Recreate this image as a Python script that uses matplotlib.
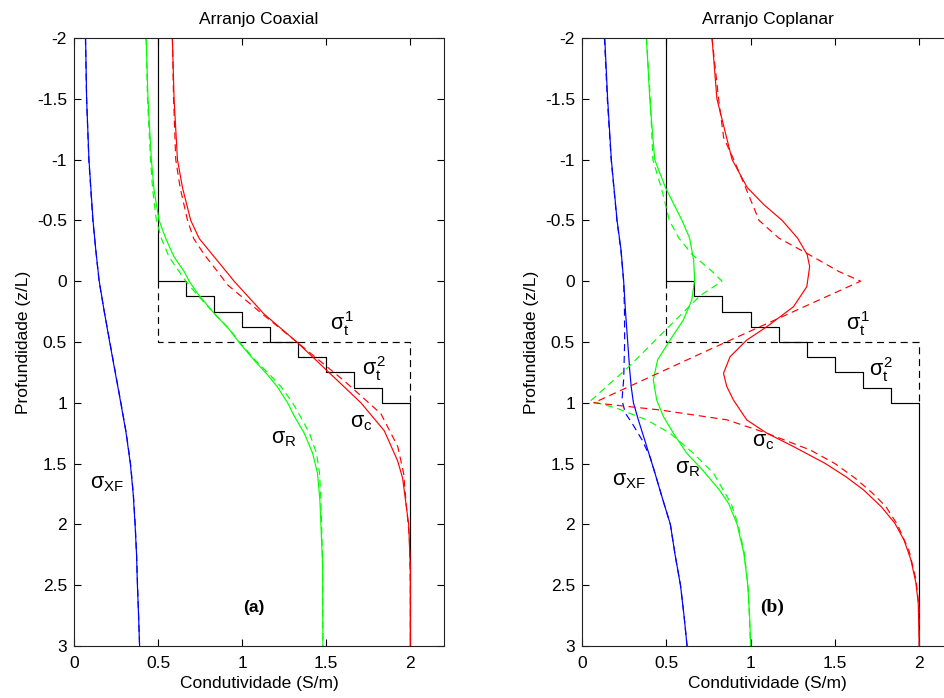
import matplotlib
matplotlib.use("Agg")
import matplotlib.pyplot as plt
import numpy as np

plt.rcParams['font.family'] = ['Liberation Sans', 'DejaVu Sans']
plt.rcParams['mathtext.fontset'] = 'custom'
plt.rcParams['mathtext.rm'] = 'Liberation Sans'
plt.rcParams['mathtext.it'] = 'Liberation Sans'
plt.rcParams['mathtext.bf'] = 'Liberation Sans:bold'

# ---------------- true model (stepped transition zone) ----------------
layer_tops = [-2.0, 0.0, 0.125, 0.25, 0.375, 0.5, 0.625, 0.75, 0.875, 1.0]
layer_sigma = [0.5, 0.667, 0.833, 1.0, 1.167, 1.333, 1.5, 1.667, 1.833, 2.0]
model_bottom = 3.0
# two-layer reference model (sigma_t^1 above, sigma_t^2 below)
two_layer_sigma = [0.5, 2.0]
two_layer_interface = 0.5
transition_zone = [0.0, 1.0]

# ---------------- Arranjo Coaxial ----------------
coax_xf_z = [-2.0, -1.5, -1.0, -0.5, -0.25, 0.0, 0.25, 0.5, 0.75, 1.0, 1.25, 1.5, 1.75, 2.0, 2.25, 2.5, 2.75, 3.0]
coax_xf = [0.069, 0.075, 0.089, 0.113, 0.130, 0.150, 0.180, 0.212, 0.245, 0.278, 0.310, 0.335, 0.352, 0.363, 0.372, 0.377, 0.384, 0.390]
coax_xf_dash = [0.068, 0.075, 0.088, 0.112, 0.130, 0.149, 0.180, 0.213, 0.246, 0.279, 0.311, 0.336, 0.353, 0.364, 0.372, 0.378, 0.384, 0.390]

coax_r_z = [-2.0, -1.5, -1.0, -0.75, -0.5, -0.35, -0.2, -0.08, 0.0, 0.10, 0.264, 0.40, 0.50, 0.65, 0.77, 0.87, 1.0, 1.11, 1.25, 1.415, 1.58, 1.8, 2.0, 2.33, 3.0]
coax_r = [0.429, 0.440, 0.460, 0.476, 0.506, 0.546, 0.595, 0.655, 0.685, 0.734, 0.833, 0.925, 0.980, 1.071, 1.151, 1.210, 1.270, 1.310, 1.369, 1.419, 1.448, 1.462, 1.468, 1.478, 1.480]
coax_r_dash = [0.429, 0.437, 0.455, 0.468, 0.490, 0.520, 0.565, 0.625, 0.665, 0.725, 0.833, 0.928, 0.983, 1.078, 1.165, 1.232, 1.300, 1.345, 1.400, 1.442, 1.460, 1.468, 1.472, 1.479, 1.480]

coax_c_z = [-2.0, -1.5, -1.0, -0.77, -0.5, -0.35, -0.22, -0.08, 0.0, 0.27, 0.5, 0.74, 1.0, 1.23, 1.48, 1.62, 2.0, 2.36, 3.0]
coax_c = [0.585, 0.595, 0.615, 0.645, 0.694, 0.745, 0.822, 0.905, 0.952, 1.130, 1.325, 1.508, 1.706, 1.845, 1.925, 1.954, 1.990, 2.000, 2.000]
coax_c_dash_z = [-2.0, -1.5, -1.0, -0.77, -0.5, -0.35, -0.22, -0.08, 0.03, 0.27, 0.5, 0.82, 1.09, 1.36, 1.58, 1.83, 2.1, 2.5, 3.0]
coax_c_dash = [0.585, 0.592, 0.605, 0.631, 0.675, 0.712, 0.774, 0.853, 0.913, 1.120, 1.325, 1.607, 1.825, 1.925, 1.960, 1.975, 1.994, 2.000, 2.000]

# ---------------- Arranjo Coplanar ----------------
copl_xf_z = [-2.0, -1.5, -1.0, -0.5, -0.25, 0.0, 0.25, 0.5, 0.75, 0.87, 1.0, 1.14, 1.36, 1.58, 1.8, 2.0, 2.25, 2.5, 2.75, 3.0]
copl_xf = [0.135, 0.152, 0.174, 0.208, 0.232, 0.247, 0.258, 0.271, 0.284, 0.292, 0.305, 0.334, 0.384, 0.433, 0.480, 0.524, 0.552, 0.584, 0.605, 0.623]
copl_xf_dash_z = [-2.0, -1.5, -1.0, -0.5, -0.25, 0.0, 0.25, 0.5, 0.81, 0.977, 1.086, 1.168, 1.305, 1.45, 1.58, 1.8, 2.0, 2.25, 2.5, 2.75, 3.0]
copl_xf_dash = [0.133, 0.150, 0.173, 0.207, 0.231, 0.247, 0.252, 0.253, 0.247, 0.237, 0.257, 0.297, 0.356, 0.405, 0.433, 0.480, 0.524, 0.552, 0.584, 0.605, 0.623]

copl_r_z = [-2.0, -1.5, -1.0, -0.77, -0.5, -0.355, -0.174, -0.01, 0.155, 0.319, 0.484, 0.648, 0.812, 0.977, 1.114, 1.25, 1.415, 1.553, 1.717, 1.83, 2.0, 2.24, 2.5, 2.75, 3.0]
copl_r = [0.382, 0.402, 0.431, 0.495, 0.593, 0.638, 0.662, 0.668, 0.651, 0.601, 0.522, 0.448, 0.423, 0.443, 0.483, 0.542, 0.621, 0.715, 0.815, 0.870, 0.920, 0.960, 0.983, 0.994, 1.000]
copl_r_dash_z = [-2.0, -1.5, -1.0, -0.77, -0.5, -0.355, -0.22, -0.08, 0.0, 0.12, 0.45, 0.70, 0.985, 1.045, 1.141, 1.25, 1.415, 1.58, 1.83, 2.0, 2.24, 2.5, 3.0]
copl_r_dash = [0.382, 0.405, 0.420, 0.470, 0.518, 0.574, 0.653, 0.772, 0.830, 0.700, 0.460, 0.280, 0.050, 0.206, 0.384, 0.522, 0.660, 0.780, 0.885, 0.925, 0.963, 0.984, 1.000]

copl_c_z = [-2.0, -1.5, -1.0, -0.77, -0.63, -0.5, -0.355, -0.22, -0.12, 0.045, 0.21, 0.374, 0.484, 0.621, 0.758, 0.868, 0.977, 1.141, 1.25, 1.36, 1.497, 1.608, 1.717, 1.855, 1.99, 2.13, 2.29, 2.48, 2.65, 3.0]
copl_c = [0.771, 0.800, 0.890, 0.980, 1.078, 1.187, 1.278, 1.335, 1.350, 1.333, 1.254, 1.096, 0.977, 0.878, 0.839, 0.859, 0.898, 0.977, 1.096, 1.254, 1.440, 1.565, 1.670, 1.775, 1.855, 1.910, 1.950, 1.980, 1.994, 2.000]
copl_c_dash_z = [-2.0, -1.5, -1.18, -1.0, -0.77, -0.5, -0.355, -0.22, -0.08, 0.0, 0.566, 1.0, 1.059, 1.14, 1.25, 1.388, 1.5, 1.62, 1.74, 1.85, 2.0, 2.22, 2.45, 2.7, 3.0]
copl_c_dash = [0.771, 0.810, 0.840, 0.900, 0.970, 1.050, 1.167, 1.345, 1.523, 1.652, 0.750, 0.070, 0.463, 0.859, 1.096, 1.353, 1.500, 1.620, 1.720, 1.800, 1.870, 1.940, 1.980, 2.000, 2.000]

titles = ['Arranjo Coaxial', 'Arranjo Coplanar']
panel_tags = ['(a)', '(b)']
x_ticks = [0, 0.5, 1, 1.5, 2]
x_ticklabels = ['0', '0.5', '1', '1.5', '2']
y_ticks = [-2, -1.5, -1, -0.5, 0, 0.5, 1, 1.5, 2, 2.5, 3]
y_ticklabels = ['-2', '-1.5', '-1', '-0.5', '0', '0.5', '1', '1.5', '2', '2.5', '3']

BLUE, GREEN, RED, BLACK = '#0000ff', '#00ff00', '#ff0000', '#000000'
LW = 0.85
DASH = (0, (6, 4))

fig = plt.figure(figsize=(9.45, 6.98), dpi=100)
ax_left = fig.add_axes([74 / 945, 52 / 698, 370 / 945, 608 / 698])
ax_right = fig.add_axes([582 / 945, 52 / 698, 371 / 945, 608 / 698])


def draw_model(ax):
    zs, ss = [], []
    bounds = layer_tops + [model_bottom]
    for i, s in enumerate(layer_sigma):
        zs += [bounds[i], bounds[i + 1]]
        ss += [s, s]
    ax.plot(ss, zs, color=BLACK, lw=LW)
    s1, s2 = two_layer_sigma
    ax.plot([s1, s1, s2, s2],
            [transition_zone[0], two_layer_interface, two_layer_interface, transition_zone[1]],
            color=BLACK, lw=LW, ls=DASH)


def style_axes(ax, title):
    ax.set_xlim(0, 2.2)
    ax.set_ylim(3, -2)
    ax.set_xticks(x_ticks)
    ax.set_xticklabels(x_ticklabels)
    ax.set_yticks(y_ticks)
    ax.set_yticklabels(y_ticklabels)
    ax.tick_params(direction='in', length=5, width=0.8, top=True, right=True,
                   labelsize=12.5, colors='#000000')
    ax.tick_params(axis='x', pad=7)
    ax.tick_params(axis='y', pad=5)
    for sp in ax.spines.values():
        sp.set_linewidth(0.8)
        sp.set_color('#222222')
    ax.set_title(title, fontsize=12.5, pad=10)
    ax.set_xlabel('Condutividade (S/m)', fontsize=12.5, labelpad=4)
    ax.set_ylabel('Profundidade (z/L)', fontsize=12.5, labelpad=4)


# Coaxial panel
ax = ax_left
draw_model(ax)
ax.plot(coax_xf_dash, coax_xf_z, color=BLUE, lw=LW, ls=DASH)
ax.plot(coax_xf, coax_xf_z, color=BLUE, lw=LW)
ax.plot(coax_r_dash, coax_r_z, color=GREEN, lw=LW, ls=DASH)
ax.plot(coax_r, coax_r_z, color=GREEN, lw=LW)
ax.plot(coax_c_dash, coax_c_dash_z, color=RED, lw=LW, ls=DASH)
ax.plot(coax_c, coax_c_z, color=RED, lw=LW)
style_axes(ax, titles[0])
lab = dict(fontsize=15.5, va='baseline', ha='left')
ax.text(1.52, 0.40, r'$\sigma_t^1$', **lab)
ax.text(1.71, 0.77, r'$\sigma_t^2$', **lab)
ax.text(1.64, 1.20, r'$\sigma_c$', **lab)
ax.text(1.17, 1.33, r'$\sigma_R$', **lab)
ax.text(0.095, 1.70, r'$\sigma_{XF}$', **lab)
ax.text(1.07, 2.68, panel_tags[0], fontsize=12.5, fontweight='bold', ha='center', va='center')

# Coplanar panel
ax = ax_right
draw_model(ax)
ax.plot(copl_xf_dash, copl_xf_dash_z, color=BLUE, lw=LW, ls=DASH)
ax.plot(copl_xf, copl_xf_z, color=BLUE, lw=LW)
ax.plot(copl_r_dash, copl_r_dash_z, color=GREEN, lw=LW, ls=DASH)
ax.plot(copl_r, copl_r_z, color=GREEN, lw=LW)
ax.plot(copl_c_dash, copl_c_dash_z, color=RED, lw=LW, ls=DASH)
ax.plot(copl_c, copl_c_z, color=RED, lw=LW)
style_axes(ax, titles[1])
ax.text(1.567, 0.40, r'$\sigma_t^1$', **lab)
ax.text(1.70, 0.78, r'$\sigma_t^2$', **lab)
ax.text(1.01, 1.36, r'$\sigma_c$', **lab)
ax.text(0.55, 1.58, r'$\sigma_R$', **lab)
ax.text(0.18, 1.68, r'$\sigma_{XF}$', **lab)
ax.text(1.13, 2.68, panel_tags[1], fontsize=14, fontweight='bold', ha='center', va='center',
        family='Liberation Serif')

fig.savefig('out.png', dpi=100)
